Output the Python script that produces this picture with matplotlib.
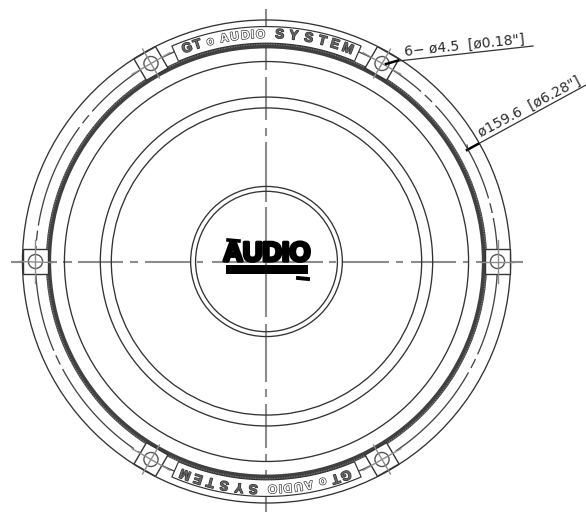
import numpy as np
import matplotlib
matplotlib.use("Agg")
import matplotlib.pyplot as plt
from matplotlib.patches import Circle, Rectangle, Polygon
import matplotlib.patheffects as pe
from matplotlib.transforms import Affine2D

# ---- drawing dimensions (mm) ----
outer_ring_r = 84.3
thin_ring_r = [69.8, 57.4, 53.6, 26.2, 24.5]
thick_ring_r = 75.3
bolt_circle_d = 159.6
bolt_angles = [0, 60, 120, 180, 240, 300]
hole_d = 4.5
tab_size = 8.6
band_angles = (66.5, 113.5)
band_radii = (76.2, 82.0)
band_chars = ["G", "T", "o", "A", "U", "D", "I", "O", "S", "Y", "S", "T", "E", "M"]
band_char_angles = [110.2, 107.5, 104.2, 100.6, 98.0, 95.3, 93.5, 91.5,
                    86.7, 83.2, 79.4, 75.9, 72.7, 69.3]
short_dash_angles = [13.5, 45.5, 77.5, 109.5, 141.5, 173.5, 205.5, 237.5, 269.5, 301.5, 333.5]
vertical_dashes = [(9, 70), (77, 120), (128, 136), (142, 202), (207, 317), (324, 382),
                   (389, 397), (404, 448), (454, 462), (470, 512)]
horizontal_dashes = [(11, 57), (63, 72), (78, 123), (130, 138), (145, 190), (197, 203),
                     (212, 323), (329, 336), (343, 389), (396, 403), (411, 456),
                     (463, 469), (476, 523)]
hole_label = '6\u2212 \u00f84.5  [\u00f80.18"]'
diam_label = '\u00f8159.6  [\u00f86.28"]'
logo_text = "AUDIO"

W, H = 586, 512
cx, cy = 266.5, 261.5
sx, sy = 2.895, 2.865
INK = "#333333"
GREY = "#8c8c8c"

plt.rcParams["font.family"] = ["DejaVu Sans"]
fig = plt.figure(figsize=(W / 100, H / 100), dpi=100)
ax = fig.add_axes([0, 0, 1, 1])
ax.set_xlim(-cx / sx, (W - cx) / sx)
ax.set_ylim(-(H - cy) / sy, cy / sy)
ax.axis("off")


def pol(r, deg):
    a = np.radians(deg)
    return r * np.cos(a), r * np.sin(a)


def P(x, y):
    """pixel position of the reference -> drawing units"""
    return (x - cx) / sx, (cy - y) / sy


# rings
for r in [outer_ring_r] + thin_ring_r:
    ax.add_patch(Circle((0, 0), r, fill=False, ec=INK, lw=0.95, zorder=2))
ax.add_patch(Circle((0, 0), thick_ring_r, fill=False, ec="#404040", lw=3.8, zorder=2))
ax.add_patch(Circle((0, 0), thick_ring_r + 0.5, fill=False, ec="#777777", lw=1.0,
                    ls=(0, (0.9, 0.9)), zorder=3))

# bolt circle: a short dash at each listed angle, long dashes between
bc_r = bolt_circle_d / 2
half_short, gap = 1.1, 1.6
for i, a in enumerate(short_dash_angles):
    th = np.linspace(a - half_short, a + half_short, 6)
    ax.plot(*pol(bc_r, th), color="#444444", lw=0.95, zorder=2)
    nxt = short_dash_angles[(i + 1) % len(short_dash_angles)]
    if nxt < a:
        nxt += 360
    th = np.linspace(a + half_short + gap, nxt - half_short - gap, 30)
    ax.plot(*pol(bc_r, th), color="#444444", lw=0.95, zorder=2)

# tabs with holes
for ang in bolt_angles:
    x, y = pol(bc_r, ang)
    tr = Affine2D().rotate_deg_around(x, y, ang) + ax.transData
    s = tab_size
    ax.add_patch(Rectangle((x - s / 2, y - s / 2), s, s, fc="white", ec=INK, lw=1.0,
                           transform=tr, zorder=4))
    ax.add_patch(Circle((x, y), hole_d / 2 + 0.2, fill=False, ec="#555555", lw=1.0, zorder=5))
    ux, uy = np.cos(np.radians(ang)), np.sin(np.radians(ang))
    px_, py_ = -uy, ux
    ax.plot([x - ux * 5.8, x + ux * 5.8], [y - uy * 5.8, y + uy * 5.8], color=GREY, lw=1.0, zorder=5)
    ax.plot([x - px_ * 7.5, x + px_ * 7.5], [y - py_ * 7.5, y + py_ * 7.5], color=GREY, lw=1.0, zorder=5)

# lettering bands (top, and the same rotated 180 degrees at the bottom)
for offset in (0, 180):
    a0, a1 = band_angles[0] + offset, band_angles[1] + offset
    th = np.linspace(a0, a1, 60)
    outer = np.column_stack(pol(band_radii[1], th))
    inner = np.column_stack(pol(band_radii[0], th[::-1]))
    ax.add_patch(Polygon(np.vstack([outer, inner]), closed=True, fc="white", ec=INK, lw=0.85, zorder=4))
    for i, (ch, a) in enumerate(zip(band_chars, band_char_angles)):
        a = a + offset
        x, y = pol(79.1, a)
        heavy = i < 2 or i >= 8
        ax.text(x, y, ch, rotation=a - 90, rotation_mode="anchor", ha="center", va="center",
                fontsize=9.6 if heavy else 8.6, color="#666666" if heavy else "white",
                fontweight="bold", zorder=6, family="Liberation Sans",
                path_effects=[pe.withStroke(linewidth=0.9, foreground="#2a2a2a")])

# centre lines
for y0, y1 in vertical_dashes:
    ax.plot(*zip(P(266, y0), P(266, y1)), color=GREY, lw=1.5, solid_capstyle="butt", zorder=1)
for x0, x1 in horizontal_dashes:
    ax.plot(*zip(P(x0, 261.5), P(x1, 261.5)), color=GREY, lw=1.5, solid_capstyle="butt", zorder=1)

# centre logo
ax.add_patch(Rectangle(P(226, 274), 82 / sx, 9 / sy, fc="black", ec="none", zorder=7))
ax.text(*P(267, 254), logo_text, fontsize=19.5, fontweight="bold", family="Liberation Sans",
        color="black", ha="center", va="center", zorder=7,
        path_effects=[pe.withStroke(linewidth=2.4, foreground="black")])
ax.plot(*zip(P(228, 240), P(239, 241)), color="black", lw=2.6, zorder=7)
ax.plot(*zip(P(298, 278), P(308, 279)), color="black", lw=2.8, zorder=7)

# dimensions
ax.plot(*zip(P(398, 61), P(533, 46)), color=INK, lw=0.9, zorder=8)
ax.plot(*zip(P(386, 64), P(398, 60.5)), color="black", lw=1.8, zorder=8)
ax.text(*P(405, 56), hole_label, fontsize=10, rotation=6, rotation_mode="anchor",
        ha="left", va="baseline", color="#2a2a2a", zorder=8)
ax.plot(*zip(P(467, 150), P(586, 85)), color=INK, lw=0.9, zorder=8)
ax.plot(*zip(P(467, 150), P(478, 144)), color="black", lw=1.8, zorder=8)
ax.plot(*zip(P(467, 145), P(468, 151)), color=INK, lw=0.8, zorder=8)
ax.text(*P(481, 137), diam_label, fontsize=10, rotation=28, rotation_mode="anchor",
        ha="left", va="baseline", color="#2a2a2a", zorder=8, clip_on=True)

fig.savefig("out.png", dpi=100)
